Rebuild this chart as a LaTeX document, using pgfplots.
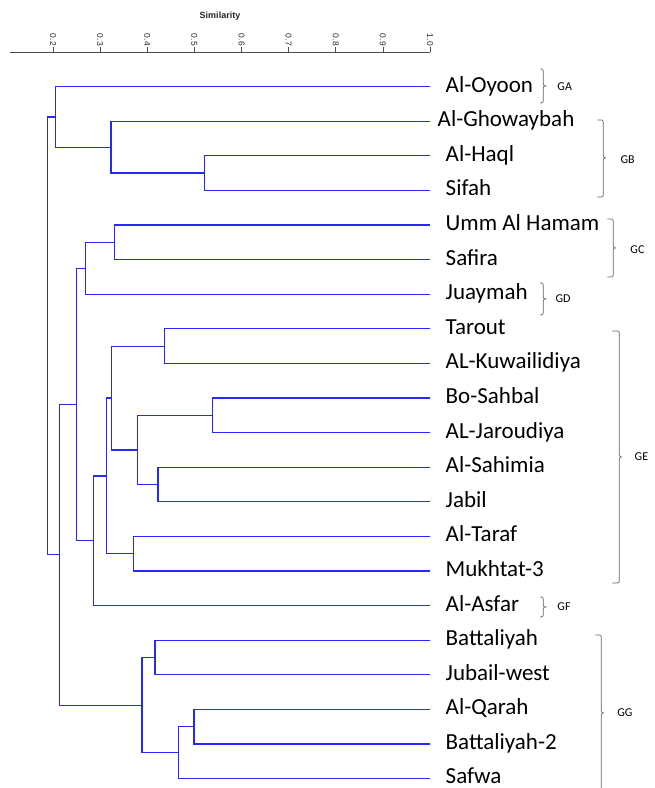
\documentclass[border=0pt]{standalone}
\usepackage{pgfplots}
\pgfplotsset{compat=1.18}
\usepackage{fontspec}
\setmainfont{Carlito}
\newfontfamily\arialfont{Liberation Sans}

\definecolor{dendro}{RGB}{40,40,250}
\definecolor{brk}{RGB}{100,100,100}
\newcommand\leaffont{\fontsize{23bp}{27bp}\selectfont}
\newcommand\grpfont{\fontsize{12bp}{14bp}\selectfont}

% right brace: hook x, vertical x, tip x, top y, middle y, bottom y
\newcommand\grpbrace[6]{%
  \draw[brk, line width=0.7bp, rounded corners=2bp]
    (axis cs:#1,#4) -- (axis cs:#2,#4) -- (axis cs:#2,#5) -- (axis cs:#3,#5)
    -- (axis cs:#2,#5) -- (axis cs:#2,#6) -- (axis cs:#1,#6);}

\pgfplotsset{den/.style={draw=dendro, line width=1.25bp, mark=none}}

\begin{document}
\begin{tikzpicture}
\begin{axis}[
  name=a, at={(0,0)}, anchor=north west,
  scale only axis, width=420bp, height=736bp,
  xmin=0.1087, xmax=1.0, ymin=0, ymax=21.27, y dir=reverse,
  axis x line*=top, axis y line=none,
  xtick={0.2,0.3,0.4,0.5,0.6,0.7,0.8,0.9,1.0},
  xticklabels={0.2,0.3,0.4,0.5,0.6,0.7,0.8,0.9,1.0},
  tick align=outside, major tick length=5bp,
  xticklabel style={rotate=-90, anchor=east, inner sep=1bp,
    font=\arialfont\fontsize{8.5bp}{9bp}\selectfont, text=black!85},
  x axis line style={draw=black!70, line width=0.8bp},
  x tick style={draw=black!70, line width=0.6bp},
  ytick=\empty,
  clip=false,
]
% group GA / GB
\addplot[den] coordinates {(1,3) (0.521,3) (0.521,4) (1,4)};
\addplot[den] coordinates {(1,2) (0.323,2) (0.323,3.5) (0.521,3.5)};
\addplot[den] coordinates {(1,1) (0.206,1) (0.206,2.75) (0.323,2.75)};
% group GC / GD
\addplot[den] coordinates {(1,5) (0.330,5) (0.330,6) (1,6)};
\addplot[den] coordinates {(0.330,5.5) (0.269,5.5) (0.269,7) (1,7)};
% group GE / GF
\addplot[den] coordinates {(1,8) (0.436,8) (0.436,9) (1,9)};
\addplot[den] coordinates {(1,10) (0.538,10) (0.538,11) (1,11)};
\addplot[den] coordinates {(1,12) (0.423,12) (0.423,13) (1,13)};
\addplot[den] coordinates {(0.538,10.5) (0.379,10.5) (0.379,12.5) (0.423,12.5)};
\addplot[den] coordinates {(0.436,8.5) (0.3246,8.5) (0.3246,11.5) (0.379,11.5)};
\addplot[den] coordinates {(1,14) (0.371,14) (0.371,15) (1,15)};
\addplot[den] coordinates {(0.3246,10) (0.313,10) (0.313,14.5) (0.371,14.5)};
\addplot[den] coordinates {(0.313,12.25) (0.2856,12.25) (0.2856,16) (1,16)};
\addplot[den] coordinates {(0.269,6.25) (0.2495,6.25) (0.2495,14.125) (0.2856,14.125)};
% group GG
\addplot[den] coordinates {(1,17) (0.4166,17) (0.4166,18) (1,18)};
\addplot[den] coordinates {(1,19) (0.4994,19) (0.4994,20) (1,20)};
\addplot[den] coordinates {(0.4994,19.5) (0.467,19.5) (0.467,21) (1,21)};
\addplot[den] coordinates {(0.4166,17.5) (0.389,17.5) (0.389,20.25) (0.467,20.25)};
% upper joins and root
\addplot[den] coordinates {(0.2495,10.1875) (0.214,10.1875) (0.214,18.875) (0.389,18.875)};
\addplot[den] coordinates {(0.206,1.875) (0.188,1.875) (0.188,14.53) (0.214,14.53)};

% site names
\begin{scope}[every node/.style={anchor=base west, inner sep=0, font=\leaffont, xshift=15.5bp, yshift=-5.5bp}]
\node at (axis cs:1,1) {Al-Oyoon};
\node[xshift=-8bp] at (axis cs:1,2) {Al-Ghowaybah};
\node at (axis cs:1,3) {Al-Haql};
\node at (axis cs:1,4) {Sifah};
\node at (axis cs:1,5) {Umm Al Hamam};
\node at (axis cs:1,6) {Safira};
\node at (axis cs:1,7) {Juaymah};
\node at (axis cs:1,8) {Tarout};
\node at (axis cs:1,9) {AL-Kuwailidiya};
\node at (axis cs:1,10) {Bo-Sahbal};
\node at (axis cs:1,11) {AL-Jaroudiya};
\node at (axis cs:1,12) {Al-Sahimia};
\node at (axis cs:1,13) {Jabil};
\node at (axis cs:1,14) {Al-Taraf};
\node at (axis cs:1,15) {Mukhtat-3};
\node at (axis cs:1,16) {Al-Asfar};
\node at (axis cs:1,17) {Battaliyah};
\node at (axis cs:1,18) {Jubail-west};
\node at (axis cs:1,19) {Al-Qarah};
\node at (axis cs:1,20) {Battaliyah-2};
\node[yshift=1bp] at (axis cs:1,21) {Safwa};
\end{scope}

% group braces and names
\grpbrace{1.2339}{1.2403}{1.2467}{0.488}{0.980}{1.471}
\grpbrace{1.3550}{1.3677}{1.3762}{1.962}{3.061}{4.188}
\grpbrace{1.3762}{1.3889}{1.3975}{4.824}{5.662}{6.500}
\grpbrace{1.2339}{1.2403}{1.2467}{6.673}{7.136}{7.598}
\grpbrace{1.3869}{1.4017}{1.4102}{8.061}{11.70}{15.344}
\grpbrace{1.2339}{1.2403}{1.2467}{15.748}{16.037}{16.326}
\grpbrace{1.3507}{1.3635}{1.3720}{16.847}{19.10}{21.62}
\begin{scope}[every node/.style={anchor=west, inner sep=0, font=\grpfont}]
\node at (axis cs:1.270,1.0) {GA};
\node at (axis cs:1.404,3.12) {GB};
\node at (axis cs:1.425,5.72) {GC};
\node at (axis cs:1.266,7.14) {GD};
\node at (axis cs:1.434,11.70) {GE};
\node at (axis cs:1.270,16.04) {GF};
\node at (axis cs:1.397,19.10) {GG};
\end{scope}
\end{axis}
\node[font=\arialfont\bfseries\fontsize{9bp}{10bp}\selectfont, text=black!85]
  at ([shift={(210bp,36bp)}]a.north west) {Similarity};
\pgfresetboundingbox
\useasboundingbox ([shift={(-10bp,52bp)}]a.north west) rectangle ([shift={(645bp,-736bp)}]a.north west);
\end{tikzpicture}
\end{document}
